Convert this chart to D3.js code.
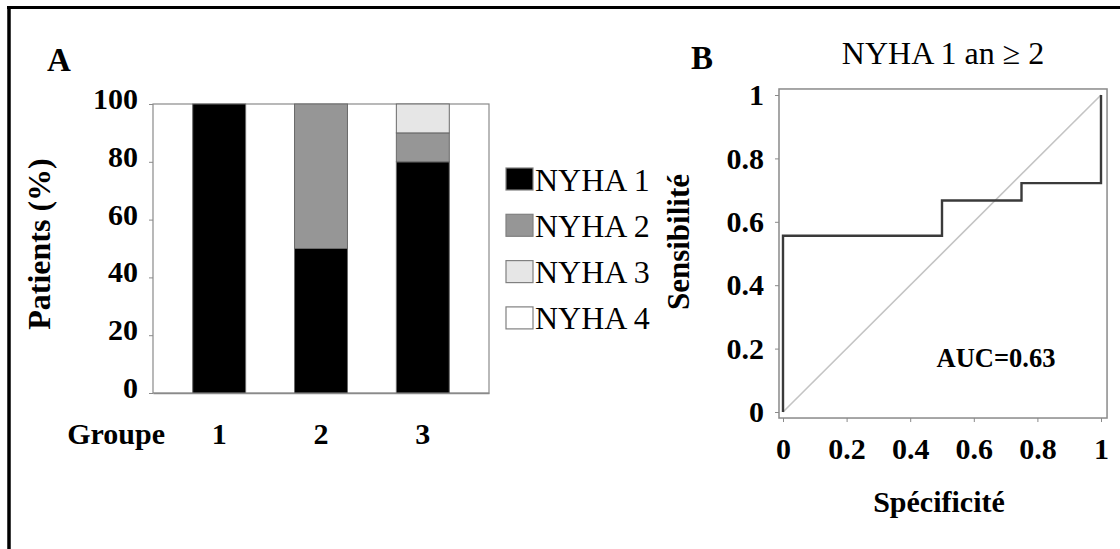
<!DOCTYPE html>
<html>
<head>
<meta charset="utf-8">
<script src="https://cdn.jsdelivr.net/npm/d3@7"></script>
<style>
  html, body { margin: 0; padding: 0; background: #fff; }
  svg { display: block; }
  text { font-family: "Liberation Serif", "Times New Roman", serif; fill: #000; }
</style>
</head>
<body>
<svg id="chart" width="1120" height="549"></svg>
<script>
// ---------- Data ----------
const groups = ["1", "2", "3"];
const classes = ["NYHA 1", "NYHA 2", "NYHA 3", "NYHA 4"];
const nyha1 = [100, 50, 80];
const nyha2 = [0, 50, 10];
const nyha3 = [0, 0, 10];
const nyha4 = [0, 0, 0];
const classColors = ["#000000", "#969696", "#e6e6e6", "#ffffff"];
const barTicks = [0, 20, 40, 60, 80, 100];

const rocSpec = [0, 0, 0.5, 0.75, 1];        // 1 - spécificité
const rocSens = [0, 0.556, 0.667, 0.722, 1];  // sensibilité
const rocTicks = [0, 0.2, 0.4, 0.6, 0.8, 1];
const aucLabel = "AUC=0.63";

// ---------- Setup ----------
const svg = d3.select("#chart");
svg.append("rect").attr("width", 1120).attr("height", 549).attr("fill", "#fff");

// outer frame (top + left)
svg.append("line").attr("x1", 7).attr("x2", 1120).attr("y1", 7.5).attr("y2", 7.5)
  .attr("stroke", "#000").attr("stroke-width", 3);
svg.append("line").attr("x1", 9).attr("x2", 9).attr("y1", 6).attr("y2", 549)
  .attr("stroke", "#000").attr("stroke-width", 3.5);

// ---------- Panel A ----------
const table = groups.map((g, i) => ({
  group: g, "NYHA 1": nyha1[i], "NYHA 2": nyha2[i], "NYHA 3": nyha3[i], "NYHA 4": nyha4[i]
}));
const xA = d3.scaleBand().domain(groups).range([153, 489]).paddingInner(0.48).paddingOuter(0.39);
const yA = d3.scaleLinear().domain([0, 100]).range([393, 104]);
const colorA = d3.scaleOrdinal().domain(classes).range(classColors);

const gA = svg.append("g");
gA.append("rect").attr("x", 153).attr("y", yA(100)).attr("width", 336).attr("height", yA(0) - yA(100))
  .attr("fill", "#fff").attr("stroke", "#8a8a8a").attr("stroke-width", 1.2);

const stacked = d3.stack().keys(classes)(table);
gA.selectAll("g.layer").data(stacked).join("g").attr("class", "layer")
  .attr("fill", d => colorA(d.key))
  .selectAll("rect").data(d => d.filter(s => s[1] - s[0] > 0)).join("rect")
  .attr("x", d => xA(d.data.group))
  .attr("width", xA.bandwidth())
  .attr("y", d => yA(d[1]))
  .attr("height", d => yA(d[0]) - yA(d[1]))
  .attr("stroke", "#6a6a6a").attr("stroke-width", 1);

const axA = gA.append("g").attr("transform", "translate(153,0)")
  .call(d3.axisLeft(yA).tickValues(barTicks).tickSize(4).tickPadding(11));
axA.select(".domain").remove();
axA.selectAll("line").attr("stroke", "#8a8a8a");
axA.selectAll("text").attr("dy", "0.15em").style("font-size", "30px").style("font-weight", "bold");

const axAx = gA.append("g").attr("transform", `translate(0,${yA(0)})`)
  .call(d3.axisBottom(xA).tickSize(0).tickPadding(0));
axAx.select(".domain").attr("stroke", "#8a8a8a").attr("stroke-width", 1.5);
axAx.selectAll("text").attr("y", 0).attr("dy", 0)
  .attr("transform", "translate(0,51)")
  .style("font-size", "30px").style("font-weight", "bold");

gA.append("text").attr("x", 165).attr("y", 444).attr("text-anchor", "end")
  .style("font-size", "30px").style("font-weight", "bold").text("Groupe");

gA.append("text").attr("transform", "translate(50,244) rotate(-90)").attr("text-anchor", "middle")
  .style("font-size", "32px").style("font-weight", "bold").text("Patients (%)");

gA.append("text").attr("x", 47).attr("y", 71)
  .style("font-size", "33px").style("font-weight", "bold").text("A");

// legend
const leg = gA.append("g").selectAll("g").data(classes).join("g")
  .attr("transform", (d, i) => `translate(506,${168 + i * 46.3})`);
leg.append("rect").attr("width", 27).attr("height", 22)
  .attr("fill", d => colorA(d)).attr("stroke", "#808080").attr("stroke-width", 1.2);
leg.append("text").attr("x", 29).attr("y", 22.5)
  .style("font-size", "32px").text(d => d);

// ---------- Panel B ----------
const xR = d3.scaleLinear().domain([0, 1]).range([783, 1101]);
const yR = d3.scaleLinear().domain([0, 1]).range([412, 95]);
const gB = svg.append("g");

const fx0 = xR(-0.0126), fx1 = xR(1.019), fy0 = yR(-0.019), fy1 = yR(1.019);
gB.append("rect").attr("x", fx0).attr("y", fy1).attr("width", fx1 - fx0).attr("height", fy0 - fy1)
  .attr("fill", "#fff").attr("stroke", "#8a8a8a").attr("stroke-width", 1.5);

const fmt = d => (d === 0 || d === 1) ? String(d) : d.toFixed(1);
const axRy = gB.append("g").attr("transform", `translate(${fx0},0)`)
  .call(d3.axisLeft(yR).tickValues(rocTicks).tickFormat(fmt).tickSize(4).tickPadding(11));
axRy.select(".domain").remove();
axRy.selectAll("line").attr("stroke", "#8a8a8a");
axRy.selectAll("text").style("font-size", "30px").style("font-weight", "bold");

const axRx = gB.append("g").attr("transform", `translate(0,${fy0})`)
  .call(d3.axisBottom(xR).tickValues(rocTicks).tickFormat(fmt).tickSize(4).tickPadding(16));
axRx.select(".domain").remove();
axRx.selectAll("line").attr("stroke", "#8a8a8a");
axRx.selectAll("text").style("font-size", "30px").style("font-weight", "bold");

// diagonal reference
gB.append("path")
  .attr("d", d3.line().x(d => xR(d)).y(d => yR(d))([0, 1]))
  .attr("fill", "none").attr("stroke", "#c4c4c4").attr("stroke-width", 1.6);

// ROC step curve
const rocPts = rocSpec.map((s, i) => [s, rocSens[i]]);
gB.append("path")
  .attr("d", d3.line().x(d => xR(d[0])).y(d => yR(d[1])).curve(d3.curveStepAfter)(rocPts))
  .attr("fill", "none").attr("stroke", "#3a3a3a").attr("stroke-width", 2.4);

gB.append("text").attr("x", xR(0.483)).attr("y", yR(0.143))
  .style("font-size", "26.5px").style("font-weight", "bold").text(aucLabel);

gB.append("text").attr("x", (fx0 + fx1) / 2).attr("y", 64).attr("text-anchor", "middle")
  .style("font-size", "32px").text("NYHA 1 an \u2265 2");

gB.append("text").attr("x", 691).attr("y", 69)
  .style("font-size", "33px").style("font-weight", "bold").text("B");

gB.append("text").attr("transform", "translate(689,242) rotate(-90)").attr("text-anchor", "middle")
  .style("font-size", "31px").style("font-weight", "bold").text("Sensibilité");

gB.append("text").attr("x", 939).attr("y", 512).attr("text-anchor", "middle")
  .style("font-size", "30px").style("font-weight", "bold").text("Spécificité");
</script>
</body>
</html>
